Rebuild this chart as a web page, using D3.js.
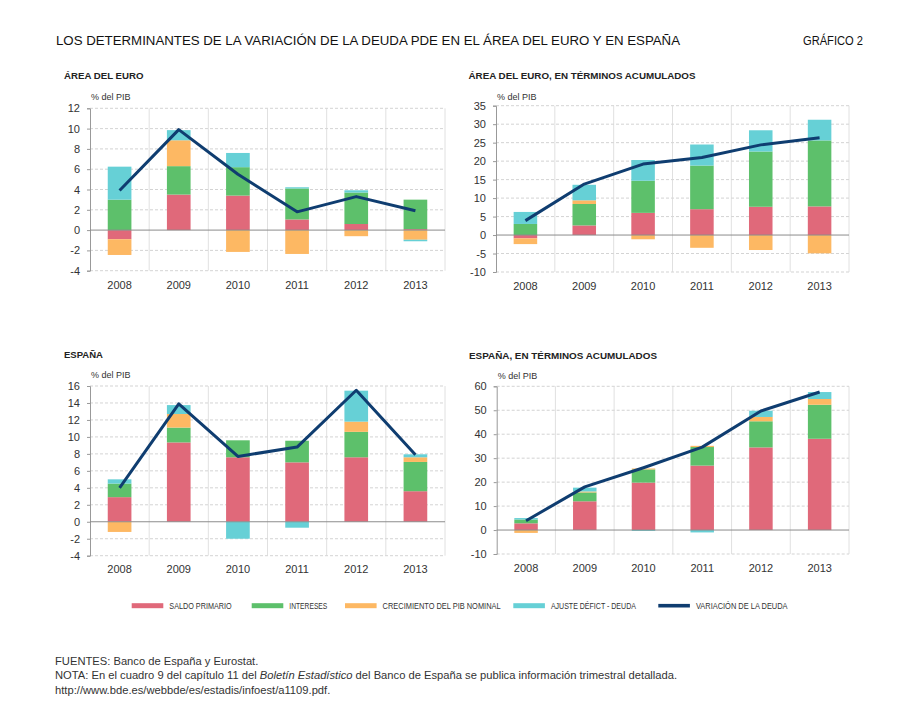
<!DOCTYPE html>
<html>
<head>
<meta charset="utf-8">
<script src="https://cdn.jsdelivr.net/npm/d3@7"></script>
<style>
  body { margin: 0; background: #fff; }
  svg { display: block; font-family: "Liberation Sans", Arial, Helvetica, sans-serif; }
  .axis text { font-size: 11px; fill: #333; }
  .axis path, .axis line { stroke: #999; }
</style>
</head>
<body>
<svg id="chart" width="907" height="712"></svg>
<script>

var years = ["2008", "2009", "2010", "2011", "2012", "2013"];
var keys = ["saldo", "intereses", "pib", "ajuste"];
var legendLabels = ["SALDO PRIMARIO", "INTERESES", "CRECIMIENTO DEL PIB NOMINAL", "AJUSTE DÉFICT - DEUDA", "VARIACIÓN DE LA DEUDA"];

// área del euro, anual
var euroSaldo     = [-0.9, 3.5, 3.4, 1.05, 0.6, 0.1];
var euroIntereses = [3.0, 2.8, 2.8, 3.05, 3.1, 2.9];
var euroPib       = [-1.55, 2.55, -2.15, -2.35, -0.6, -0.95];
var euroAjuste    = [3.25, 1.0, 1.4, 0.12, 0.22, -0.15];
var euroDeuda     = [3.9, 9.9, 5.5, 1.8, 3.3, 1.9];

// área del euro, acumulado
var euroAcSaldo     = [-0.9, 2.6, 6.0, 7.0, 7.65, 7.75];
var euroAcIntereses = [3.0, 5.8, 8.7, 11.8, 14.95, 17.85];
var euroAcPib       = [-1.55, 1.0, -1.15, -3.45, -4.05, -4.95];
var euroAcAjuste    = [3.25, 4.2, 5.6, 5.7, 5.75, 5.6];
var euroAcDeuda     = [3.9, 13.8, 19.2, 21.0, 24.4, 26.3];

// España, anual
var espSaldo     = [2.9, 9.35, 7.6, 7.0, 7.6, 3.6];
var espIntereses = [1.6, 1.75, 2.0, 2.55, 3.0, 3.45];
var espPib       = [-1.2, 1.6, 0.0, 0.0, 1.2, 0.55];
var espAjuste    = [0.5, 1.05, -2.0, -0.7, 3.65, 0.35];
var espDeuda     = [4.0, 13.9, 7.7, 8.8, 15.5, 7.9];

// España, acumulado
var espAcSaldo     = [2.8, 12.0, 19.8, 26.9, 34.5, 38.1];
var espAcIntereses = [1.6, 3.7, 5.5, 7.75, 10.9, 14.2];
var espAcPib       = [-1.2, 0.4, 0.4, 0.5, 1.8, 2.4];
var espAcAjuste    = [0.6, 1.6, -0.4, -1.0, 2.6, 2.9];
var espAcDeuda     = [3.9, 18.0, 26.0, 34.6, 49.7, 57.6];

var colors = {saldo: "#e0697a", intereses: "#5dc06b", pib: "#fdb863", ajuste: "#66d0d6", deuda: "#0f3d70"};

var svg = d3.select("#chart");
svg.append("rect").attr("width", 907).attr("height", 712).attr("fill", "#fff");

function drawPanel(p) {
  var g = svg.append("g");

  var rows = years.map(function(y, i) {
    return {year: y, saldo: p.saldo[i], intereses: p.intereses[i], pib: p.pib[i], ajuste: p.ajuste[i], deuda: p.deuda[i]};
  });

  var x = d3.scaleBand().domain(years).range([p.x0, p.x1]).padding(0);
  var y = d3.scaleLinear().domain(p.domain).range([p.yBot, p.yTop]);
  var ticks = d3.range(p.domain[0], p.domain[1] + 0.001, p.step);

  // horizontal dashed grid
  g.selectAll(".hgrid")
    .data(ticks.filter(function(t) { return t !== 0; }))
    .enter().append("line")
      .attr("x1", p.x0).attr("x2", p.x1)
      .attr("y1", function(d) { return y(d); }).attr("y2", function(d) { return y(d); })
      .attr("stroke", "#c8c8c8")
      .attr("stroke-width", 0.8)
      .attr("stroke-dasharray", "3,2");

  // vertical grid at band edges
  g.selectAll(".vgrid")
    .data(years)
    .enter().append("line")
      .attr("x1", function(d) { return x(d) + x.bandwidth(); })
      .attr("x2", function(d) { return x(d) + x.bandwidth(); })
      .attr("y1", p.yTop).attr("y2", p.yBot)
      .attr("stroke", "#d8d8d8")
      .attr("stroke-width", 0.8);

  g.append("g")
    .attr("class", "axis")
    .attr("transform", "translate(" + p.x0 + ",0)")
    .call(d3.axisLeft(y).tickValues(ticks).tickSize(3).tickPadding(7).tickFormat(function(d) { return String(d); }))
    .call(function(a) { a.select(".domain").attr("stroke", "#999"); });

  g.append("g")
    .attr("class", "axis")
    .attr("transform", "translate(0," + p.yBot + ")")
    .call(d3.axisBottom(x).tickSize(0).tickPadding(p.xPad))
    .call(function(a) { a.select(".domain").remove(); });

  // bars
  var stack = d3.stack().keys(keys).offset(d3.stackOffsetDiverging);
  var series = stack(rows);
  var bw = x.bandwidth() * 0.4;

  g.selectAll(".serie")
    .data(series)
    .enter().append("g")
      .attr("fill", function(d) { return colors[d.key]; })
    .selectAll("rect")
    .data(function(d) { return d; })
    .enter().append("rect")
      .attr("x", function(d) { return x(d.data.year) + (x.bandwidth() - bw) / 2; })
      .attr("width", bw)
      .attr("y", function(d) { return y(Math.max(d[0], d[1])); })
      .attr("height", function(d) { return Math.abs(y(d[0]) - y(d[1])); });

  // zero line
  g.append("line")
    .attr("x1", p.x0).attr("x2", p.x1)
    .attr("y1", y(0)).attr("y2", y(0))
    .attr("stroke", "#8c8c8c")
    .attr("stroke-width", 1);

  var line = d3.line()
    .x(function(d) { return x(d.year) + x.bandwidth() / 2; })
    .y(function(d) { return y(d.deuda); });

  g.append("path")
    .datum(rows)
    .attr("fill", "none")
    .attr("stroke", colors.deuda)
    .attr("stroke-width", 3)
    .attr("stroke-linejoin", "round")
    .attr("d", line);

  g.append("text")
    .text(p.title)
    .attr("x", p.titleX).attr("y", p.titleY)
    .attr("font-size", "9.5px")
    .attr("font-weight", "bold")
    .attr("fill", "#222")
    .attr("textLength", p.titleW)
    .attr("lengthAdjust", "spacingAndGlyphs");

  g.append("text")
    .text("% del PIB")
    .attr("x", p.x0 + 1).attr("y", p.unitY)
    .attr("font-size", "9px")
    .attr("fill", "#333");
}

drawPanel({title: "ÁREA DEL EURO", titleX: 64, titleY: 79.3, titleW: 79.5, unitY: 100,
  x0: 90, x1: 445, yTop: 108.3, yBot: 270.7, domain: [-4, 12], step: 2, xPad: 11,
  saldo: euroSaldo, intereses: euroIntereses, pib: euroPib, ajuste: euroAjuste, deuda: euroDeuda});

drawPanel({title: "ÁREA DEL EURO, EN TÉRMINOS ACUMULADOS", titleX: 468.5, titleY: 79, titleW: 227, unitY: 99.5,
  x0: 496, x1: 849, yTop: 105.7, yBot: 272, domain: [-10, 35], step: 5, xPad: 10.5,
  saldo: euroAcSaldo, intereses: euroAcIntereses, pib: euroAcPib, ajuste: euroAcAjuste, deuda: euroAcDeuda});

drawPanel({title: "ESPAÑA", titleX: 64, titleY: 357.5, titleW: 39, unitY: 377.5,
  x0: 90, x1: 445, yTop: 386, yBot: 555.7, domain: [-4, 16], step: 2, xPad: 9.5,
  saldo: espSaldo, intereses: espIntereses, pib: espPib, ajuste: espAjuste, deuda: espDeuda});

drawPanel({title: "ESPAÑA, EN TÉRMINOS ACUMULADOS", titleX: 469, titleY: 358.5, titleW: 188, unitY: 379,
  x0: 496.7, x1: 849, yTop: 386.3, yBot: 554, domain: [-10, 60], step: 10, xPad: 10.5,
  saldo: espAcSaldo, intereses: espAcIntereses, pib: espAcPib, ajuste: espAcAjuste, deuda: espAcDeuda});

// title
svg.append("text")
  .text("LOS DETERMINANTES DE LA VARIACIÓN DE LA DEUDA PDE EN EL ÁREA DEL EURO Y EN ESPAÑA")
  .attr("x", 56).attr("y", 44.5)
  .attr("font-size", "12.5px")
  .attr("fill", "#111")
  .attr("textLength", 624)
  .attr("lengthAdjust", "spacingAndGlyphs");

svg.append("text")
  .text("GRÁFICO 2")
  .attr("x", 803).attr("y", 44.5)
  .attr("font-size", "12.5px")
  .attr("fill", "#111")
  .attr("textLength", 60)
  .attr("lengthAdjust", "spacingAndGlyphs");

// legend
var legendKeys = ["saldo", "intereses", "pib", "ajuste", "deuda"];
var legendX = [131.7, 251.7, 345, 513.3, 658.3];
var legendW = [62.4, 38, 118, 85, 91.7];
var ly = 605.7;

var leg = svg.selectAll(".legend")
  .data(legendKeys)
  .enter().append("g");

leg.append("rect")
  .attr("x", function(d, i) { return legendX[i]; })
  .attr("y", function(d) { return d === "deuda" ? ly - 1.8 : ly - 2.5; })
  .attr("width", 31.6)
  .attr("height", function(d) { return d === "deuda" ? 3.6 : 5; })
  .attr("fill", function(d) { return colors[d]; });

leg.append("text")
  .text(function(d, i) { return legendLabels[i]; })
  .attr("x", function(d, i) { return legendX[i] + 37.6; })
  .attr("y", ly + 3.3)
  .attr("font-size", "9.5px")
  .attr("fill", "#333")
  .attr("textLength", function(d, i) { return legendW[i]; })
  .attr("lengthAdjust", "spacingAndGlyphs");

// notes
var foot = svg.append("text")
  .attr("font-size", "11.2px")
  .attr("fill", "#333");

foot.append("tspan").attr("x", 55).attr("y", 664.5).text("FUENTES: Banco de España y Eurostat.");
var nota = foot.append("tspan").attr("x", 55).attr("y", 679);
nota.append("tspan").text("NOTA: En el cuadro 9 del capítulo 11 del ");
nota.append("tspan").attr("font-style", "italic").text("Boletín Estadístico");
nota.append("tspan").text(" del Banco de España se publica información trimestral detallada.");
foot.append("tspan").attr("x", 55).attr("y", 693.5).text("http://www.bde.es/webbde/es/estadis/infoest/a1109.pdf.");

</script>
</body>
</html>
